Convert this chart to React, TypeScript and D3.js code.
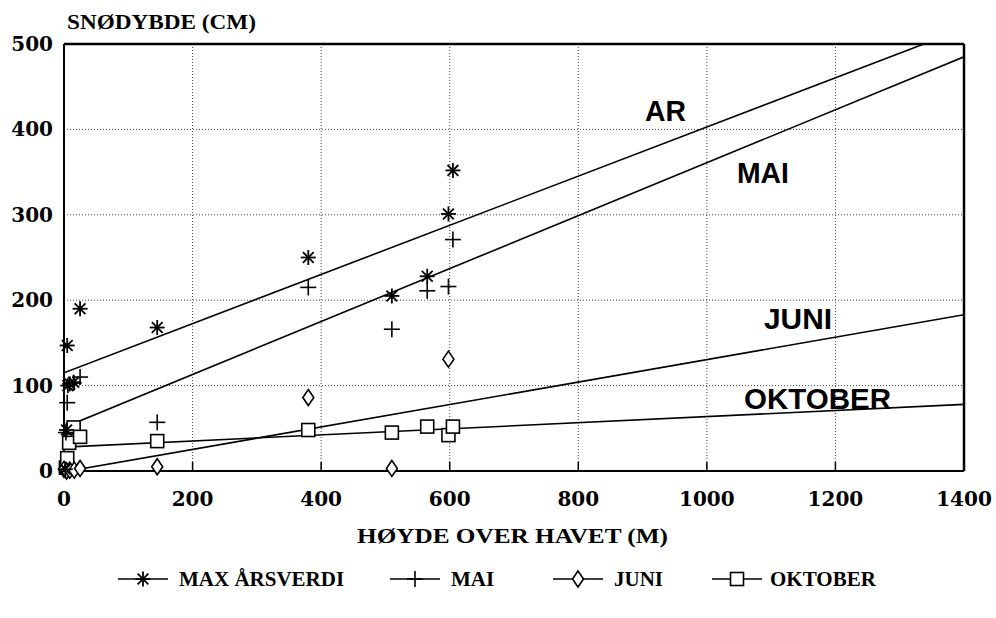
import React from 'react';
import * as d3 from 'd3';

// Max annual snow depth (stars)
const maxHeight = [2, 4, 5, 6, 9, 15, 25, 145, 380, 510, 565, 598, 605];
const maxDepth = [2, 48, 147, 100, 102, 104, 190, 168, 250, 205, 228, 301, 352];

// May (+)
const maiHeight = [3, 5, 15, 25, 145, 380, 510, 565, 598, 605];
const maiDepth = [45, 80, 103, 110, 57, 215, 166, 211, 216, 271];

// June (diamonds)
const juniHeight = [0, 4, 9, 16, 25, 145, 380, 510, 598];
const juniDepth = [2, 0, 1, 1, 3, 5, 86, 3, 131];

// October (squares)
const oktHeight = [3, 5, 8, 15, 25, 145, 380, 510, 565, 598, 605];
const oktDepth = [4, 15, 33, 51, 40, 35, 48, 45, 52, 42, 52];

// Regression lines, value at 0 m and 1400 m
const lineEnds = [0, 1400];
const arLine = [115, 518];
const maiLine = [51, 485];
const juniLine = [-1, 183];
const oktLine = [28, 78];

const xTicks = [0, 200, 400, 600, 800, 1000, 1200, 1400];
const yTicks = [0, 100, 200, 300, 400, 500];

type Kind = 'star' | 'plus' | 'diamond' | 'square';

function Marker({ kind, x, y }: { kind: Kind; x: number; y: number }) {
  const s = { stroke: '#000', strokeWidth: 1.6, fill: 'none' };
  if (kind === 'star') {
    const r = 7.5;
    const d = r * 0.72;
    return (
      <g {...s} strokeWidth={1.8}>
        <line x1={x - r} y1={y} x2={x + r} y2={y} />
        <line x1={x} y1={y - r} x2={x} y2={y + r} />
        <line x1={x - d} y1={y - d} x2={x + d} y2={y + d} />
        <line x1={x - d} y1={y + d} x2={x + d} y2={y - d} />
      </g>
    );
  }
  if (kind === 'plus') {
    const r = 8;
    return (
      <g {...s}>
        <line x1={x - r} y1={y} x2={x + r} y2={y} />
        <line x1={x} y1={y - r} x2={x} y2={y + r} />
      </g>
    );
  }
  if (kind === 'diamond') {
    return (
      <path
        d={`M${x},${y - 8}L${x + 5.5},${y}L${x},${y + 8}L${x - 5.5},${y}Z`}
        {...s}
        fill="#fff"
      />
    );
  }
  return <rect x={x - 6.5} y={y - 6.5} width={13} height={13} {...s} fill="#fff" />;
}

export default function App() {
  const left = 64;
  const right = 964;
  const top = 44;
  const bottom = 471;

  const x = d3.scaleLinear().domain([0, 1400]).range([left, right]);
  const y = d3.scaleLinear().domain([0, 500]).range([bottom, top]);

  const serif = "'Liberation Serif', 'Times New Roman', serif";
  const tickFont = "'DejaVu Serif', serif";
  const sans = "'Liberation Sans', Arial, sans-serif";

  const line = d3
    .line<number>()
    .x((_, i) => x(lineEnds[i]))
    .y((d) => y(d));

  const series: { kind: Kind; xs: number[]; ys: number[] }[] = [
    { kind: 'square', xs: oktHeight, ys: oktDepth },
    { kind: 'diamond', xs: juniHeight, ys: juniDepth },
    { kind: 'plus', xs: maiHeight, ys: maiDepth },
    { kind: 'star', xs: maxHeight, ys: maxDepth },
  ];

  const legend: { kind: Kind; label: string; cx: number; tx: number }[] = [
    { kind: 'star', label: 'MAX ÅRSVERDI', cx: 143, tx: 179 },
    { kind: 'plus', label: 'MAI', cx: 415, tx: 451 },
    { kind: 'diamond', label: 'JUNI', cx: 578, tx: 614 },
    { kind: 'square', label: 'OKTOBER', cx: 737, tx: 770 },
  ];

  return (
    <svg
      width={996}
      height={618}
      style={{ position: 'absolute', left: 0, top: 0, background: '#fff' }}
    >
      <defs>
        <clipPath id="plot">
          <rect x={left} y={top} width={right - left} height={bottom - top} />
        </clipPath>
      </defs>

      {/* grid */}
      {xTicks.slice(1, -1).map((t) => (
        <line
          key={'gx' + t}
          x1={x(t)}
          x2={x(t)}
          y1={top}
          y2={bottom}
          stroke="#444"
          strokeWidth={1}
          strokeDasharray="1,2"
        />
      ))}
      {yTicks.slice(1, -1).map((t) => (
        <line
          key={'gy' + t}
          x1={left}
          x2={right}
          y1={y(t)}
          y2={y(t)}
          stroke="#444"
          strokeWidth={1}
          strokeDasharray="1,2"
        />
      ))}

      {/* tick marks */}
      {xTicks.slice(1, -1).map((t) => (
        <line key={'tx' + t} x1={x(t)} x2={x(t)} y1={bottom} y2={bottom - 9} stroke="#000" strokeWidth={1.5} />
      ))}

      {/* frame */}
      <line x1={left} x2={right} y1={top} y2={top} stroke="#000" strokeWidth={2.5} />
      <line x1={right} x2={right} y1={top} y2={bottom} stroke="#000" strokeWidth={2.5} />
      <line x1={left} x2={left} y1={top} y2={bottom} stroke="#000" strokeWidth={2} />
      <line x1={left} x2={right} y1={bottom} y2={bottom} stroke="#000" strokeWidth={2} />

      {/* regression lines */}
      <g clipPath="url(#plot)" fill="none" stroke="#000" strokeWidth={1.6}>
        <path d={line(arLine) ?? ''} />
        <path d={line(maiLine) ?? ''} />
        <path d={line(juniLine) ?? ''} />
        <path d={line(oktLine) ?? ''} />
      </g>

      {/* points */}
      {series.map((s) =>
        s.xs.map((h, i) => <Marker key={s.kind + i} kind={s.kind} x={x(h)} y={y(s.ys[i])} />)
      )}

      {/* line labels */}
      <g fontFamily={sans} fontWeight="bold" fontSize={29} fill="#000">
        <text x={645} y={121} textLength={41} lengthAdjust="spacingAndGlyphs">AR</text>
        <text x={737} y={183} textLength={52} lengthAdjust="spacingAndGlyphs">MAI</text>
        <text x={764} y={329} textLength={68} lengthAdjust="spacingAndGlyphs">JUNI</text>
        <text x={744} y={409} textLength={147} lengthAdjust="spacingAndGlyphs">OKTOBER</text>
      </g>

      {/* tick labels */}
      <g fontFamily={tickFont} fontWeight="bold" fontSize={20} fill="#000">
        {yTicks.map((t) => (
          <text key={'yl' + t} x={53} y={y(t) + 7} textAnchor="end">
            {t}
          </text>
        ))}
        {xTicks.map((t) => (
          <text key={'xl' + t} x={x(t)} y={506} textAnchor="middle">
            {t}
          </text>
        ))}
      </g>

      {/* axis titles */}
      <g fontFamily={serif} fontWeight="bold" fontSize={21} fill="#000">
        <text x={67} y={29} textLength={189} lengthAdjust="spacingAndGlyphs">SNØDYBDE (CM)</text>
        <text x={357} y={543} textLength={311} lengthAdjust="spacingAndGlyphs">HØYDE OVER HAVET (M)</text>
      </g>

      {/* legend */}
      <g fontFamily={serif} fontWeight="bold" fontSize={21} fill="#000">
        {legend.map((l) => (
          <g key={l.label}>
            <line x1={l.cx - 25} x2={l.cx + 25} y1={579} y2={579} stroke="#000" strokeWidth={1.6} />
            <Marker kind={l.kind} x={l.cx} y={579} />
            <text x={l.tx} y={586}>{l.label}</text>
          </g>
        ))}
      </g>
    </svg>
  );
}
